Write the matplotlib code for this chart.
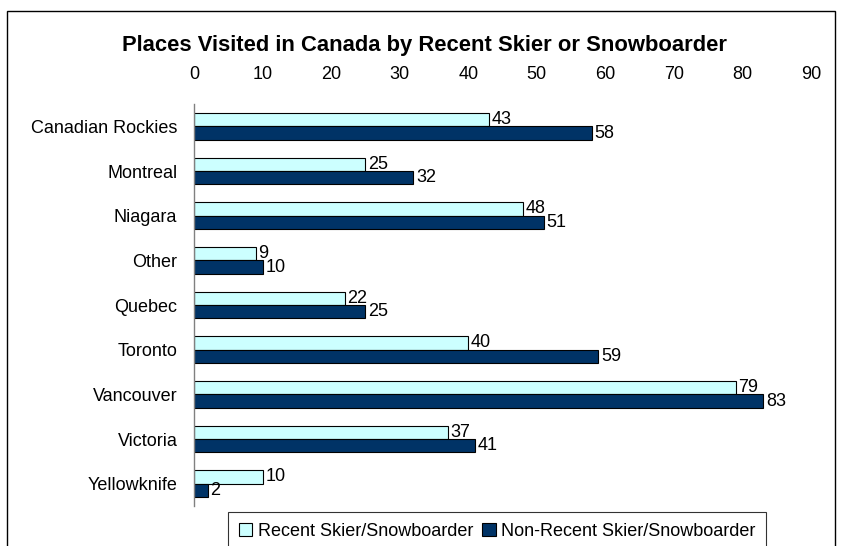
import matplotlib
matplotlib.use("Agg")
import matplotlib.pyplot as plt
import matplotlib.patches as mpatches
import numpy as np

plt.rcParams['font.family'] = ['Liberation Sans', 'DejaVu Sans']

categories = ["Canadian Rockies", "Montreal", "Niagara", "Other", "Quebec",
              "Toronto", "Vancouver", "Victoria", "Yellowknife"]
recent = [43, 25, 48, 9, 22, 40, 79, 37, 10]
non_recent = [58, 32, 51, 10, 25, 59, 83, 41, 2]
x_ticks = [0, 10, 20, 30, 40, 50, 60, 70, 80, 90]

W, H = 842, 546
fig = plt.figure(figsize=(W / 100, H / 100), dpi=100)
fig.patch.set_facecolor("white")

# outer chart frame (runs off the bottom edge)
frame = mpatches.Rectangle((7 / W, -0.05), (835 - 7) / W, 1 - 11 / H + 0.05,
                           transform=fig.transFigure, fill=False,
                           edgecolor="black", linewidth=1.0)
fig.patches.append(frame)

ax = fig.add_axes([194 / W, 1 - 506 / H, (811 - 194) / W, (506 - 104) / H])

y = np.arange(len(categories))
h = 0.30
fs = 13
b1 = ax.barh(y - h / 2, recent, height=h, color="#CCFFFF", edgecolor="black",
             linewidth=0.8, label="Recent Skier/Snowboarder")
b2 = ax.barh(y + h / 2, non_recent, height=h, color="#003366", edgecolor="black",
             linewidth=0.8, label="Non-Recent Skier/Snowboarder")
ax.bar_label(b1, labels=[str(v) for v in recent], padding=2, fontsize=fs)
ax.bar_label(b2, labels=[str(v) for v in non_recent], padding=2, fontsize=fs)

ax.set_ylim(len(categories) - 0.5, -0.5)
ax.set_xlim(0, 90)
ax.set_xticks(x_ticks)
ax.set_yticks(y)
ax.set_yticklabels(categories, fontsize=fs)
ax.xaxis.tick_top()
ax.tick_params(axis="x", length=0, labelsize=fs, pad=15)
ax.tick_params(axis="y", length=0, pad=12)
for s in ["top", "right", "bottom"]:
    ax.spines[s].set_visible(False)
ax.spines["left"].set_color("#808080")
ax.spines["left"].set_linewidth(1.0)

fig.text(424 / W, 1 - 45 / H, "Places Visited in Canada by Recent Skier or Snowboarder",
         ha="center", va="center", fontsize=15.8, fontweight="bold")

leg = fig.legend(handles=[b1, b2], loc="upper left",
                 bbox_to_anchor=(228 / W, 1 - 512 / H), ncol=2, fontsize=fs,
                 frameon=True, fancybox=False, edgecolor="black",
                 handlelength=0.75, handleheight=0.75, handletextpad=0.3,
                 columnspacing=0.5, borderpad=0.6, borderaxespad=0)
leg.get_frame().set_linewidth(0.8)

fig.savefig("out.png", dpi=100)
